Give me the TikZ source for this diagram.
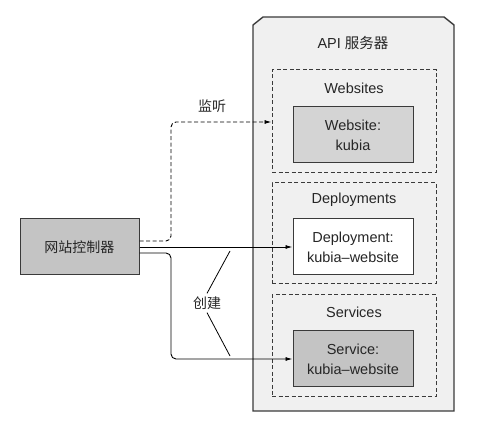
\documentclass[tikz,border=0pt]{standalone}
\usepackage{fontspec}
\setmainfont{Liberation Sans}
\newfontfamily\cjk{Noto Sans CJK SC}
\usepackage{tikz}
\usetikzlibrary{arrows.meta}

\definecolor{edge}{HTML}{3A3A3A}
\definecolor{serverbg}{HTML}{F0F0F0}
\definecolor{lightbox}{HTML}{D4D4D4}
\definecolor{darkbox}{HTML}{C4C4C4}

\tikzset{
  dashline/.style={dash pattern=on 4pt off 2.5pt},
  group/.style={draw=edge, dashline, line width=1pt, minimum width=164pt},
  res/.style={draw=edge, line width=1pt, minimum width=120pt, minimum height=56pt, align=center},
  link/.style={line width=0.9pt, -{Latex[length=7pt,width=4pt]}}
}

\begin{document}
\begin{tikzpicture}[x=1pt, y=-1pt, font=\fontsize{14.5}{20}\selectfont, text=black!85]
\useasboundingbox (0,0) rectangle (496,422);

% API server
\draw[draw=edge, fill=serverbg, line width=1.4pt, line join=miter]
  (253,25) -- (263,17) -- (444,17) -- (454,25) -- (454,411) -- (253,411) -- cycle;
\node (api) at (353,43) {API {\cjk 服务器}};

\node[group, minimum height=103pt] (websites) at (354,121.5) {};
\node[group, minimum height=101pt] (deployments) at (354,233.5) {};
\node[group, minimum height=102pt] (services) at (354,346) {};

\node (wslabel) at (354,88) {Websites};
\node (deplabel) at (354,200) {Deployments};
\node (svclabel) at (354,312) {Services};

\node[res, fill=lightbox] (website) at (353,135) {Website:\\kubia};
\node[res, fill=white] (deployment) at (353,247) {Deployment:\\kubia--website};
\node[res, fill=darkbox] (service) at (353,359) {Service:\\kubia--website};

% controller
\node[res, fill=darkbox, minimum width=119pt, font=\cjk\fontsize{14}{20}\selectfont] (ctrl) at (79.5,247) {网站控制器};

\coordinate (wsin) at (websites.west |- 0,122);
\node[font=\cjk\fontsize{14}{20}\selectfont] (watch) at (212,106) {监听};
\node[font=\cjk\fontsize{14}{20}\selectfont, inner sep=3pt] (create) at (207,303) {创建};
\coordinate (c1) at (230,251);
\coordinate (c2) at (230,356);

\draw[link, dashline, rounded corners=5pt] ([yshift=6pt]ctrl.east) -- (171,241) -- (171,122) -- (wsin);
\draw[link] (ctrl.east) -- (deployment.west);
\draw[link, rounded corners=5pt] ([yshift=-6pt]ctrl.east) -- (171,253) -- (171,359) -- (service.west);

\draw[line width=0.8pt] (create.north) -- (c1);
\draw[line width=0.8pt] (create.south) -- (c2);
\end{tikzpicture}
\end{document}
